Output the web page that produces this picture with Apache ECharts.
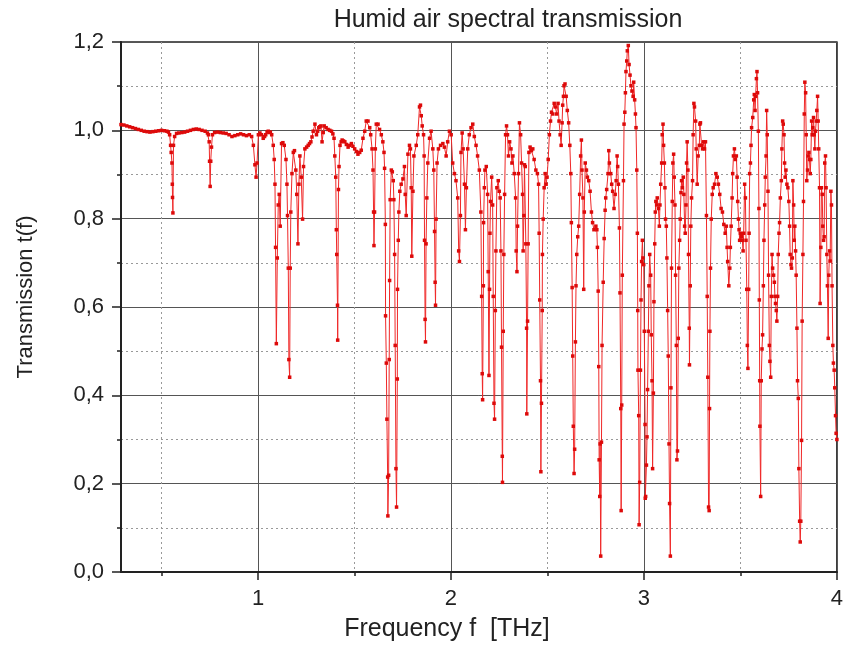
<!DOCTYPE html>
<html>
<head>
<meta charset="utf-8">
<title>Humid air spectral transmission</title>
<script src="https://cdn.jsdelivr.net/npm/echarts@6/dist/echarts.min.js"></script>
<style>
  html, body { margin: 0; padding: 0; background: #fff; }
  #box { width: 846px; height: 654px; }
</style>
</head>
<body>
<div id="box"></div>
<script>
// spectrum: [frequency THz, transmission]
var band1 = [
  [0.290,1.013],[0.305,1.012],[0.320,1.010],[0.335,1.008],[0.350,1.006],[0.365,1.004],
  [0.380,1.002],[0.395,1.000],[0.410,0.998],[0.425,0.997],[0.440,0.996],[0.455,0.997],
  [0.470,0.998],[0.485,0.999],[0.500,1.000],[0.515,0.999],[0.528,0.998],[0.536,0.996],
  [0.542,0.990],[0.547,0.966],[0.550,0.950],[0.554,0.926],[0.556,0.878],[0.557,0.848],
  [0.559,0.813],[0.562,0.966],[0.568,0.986],[0.578,0.993],[0.590,0.994],[0.605,0.995],
  [0.620,0.996],[0.635,0.998],[0.650,1.000],[0.665,1.002],[0.680,1.003],[0.695,1.002],
  [0.710,1.000],[0.726,0.998],[0.738,0.994],[0.743,0.990],[0.747,0.974],[0.749,0.930],
  [0.752,0.873],[0.755,0.930],[0.759,0.962],[0.764,0.990],[0.775,0.995],[0.790,0.996],
  [0.805,0.995],[0.820,0.994],[0.835,0.993],[0.850,0.990],[0.865,0.986],[0.880,0.988],
  [0.895,0.990],[0.910,0.992],[0.925,0.990],[0.940,0.988],[0.955,0.990],[0.967,0.986],
  [0.976,0.966],[0.984,0.922],[0.990,0.894],[0.995,0.926]
];
var band2 = [
  [1.002,0.990],[1.010,0.994],[1.018,0.990],[1.027,0.982],[1.034,0.986],[1.040,0.990],
  [1.047,0.996],[1.053,0.998],[1.058,0.995],[1.064,0.996],[1.071,0.990],[1.079,0.966],
  [1.084,0.934],[1.088,0.878],[1.091,0.735],[1.095,0.517],[1.100,0.711],[1.105,0.831],
  [1.110,0.855],[1.115,0.783],[1.122,0.970],[1.129,0.972],[1.136,0.966],[1.145,0.934],
  [1.150,0.878],[1.153,0.807],[1.157,0.688],[1.160,0.481],[1.164,0.441],[1.167,0.688],
  [1.170,0.815],[1.176,0.902],[1.183,0.950],[1.189,0.954],[1.196,0.910],[1.201,0.855],
  [1.207,0.743],[1.212,0.878],[1.217,0.942],[1.224,0.894],[1.231,0.799],[1.236,0.918],
  [1.243,0.958],[1.252,0.962],[1.260,0.966],[1.267,0.970],[1.274,0.974],[1.280,0.985],
  [1.286,0.998],[1.295,1.014],[1.303,0.990],[1.309,0.998],[1.315,1.006],[1.320,1.008],
  [1.326,1.010],[1.332,0.974],[1.338,0.995],[1.343,1.010],[1.353,1.006],[1.363,1.002],
  [1.372,1.000],[1.381,0.998],[1.388,0.992],[1.394,0.982],[1.398,0.942],[1.403,0.894],
  [1.406,0.775],[1.408,0.719],[1.412,0.604],[1.413,0.525],[1.417,0.866],[1.420,0.918],
  [1.425,0.966],[1.431,0.974],[1.436,0.978],[1.443,0.976],[1.450,0.974],[1.458,0.968],
  [1.467,0.962],[1.475,0.966],[1.484,0.970],[1.492,0.964],[1.501,0.958],[1.510,0.952],
  [1.518,0.946],[1.527,0.950],[1.535,0.955],[1.544,0.982],[1.553,0.998],[1.561,1.021],
  [1.570,1.021],[1.579,1.006],[1.584,0.990],[1.591,0.958],[1.596,0.910],[1.599,0.815],
  [1.601,0.739],[1.604,0.815],[1.608,0.958],[1.613,1.014],[1.622,1.014],[1.630,1.002],
  [1.639,0.990],[1.647,0.974],[1.653,0.950],[1.656,0.914],[1.660,0.787],[1.661,0.580],
  [1.665,0.473],[1.668,0.346],[1.672,0.215],[1.673,0.127],[1.677,0.219],[1.680,0.481],
  [1.682,0.660],[1.685,0.843],[1.691,0.910],[1.696,0.906],[1.701,0.886],[1.704,0.843],
  [1.708,0.719],[1.711,0.513],[1.715,0.234],[1.718,0.147],[1.722,0.437],[1.723,0.640],
  [1.727,0.751],[1.730,0.815],[1.735,0.862],[1.742,0.878],[1.751,0.890],[1.759,0.918],
  [1.763,0.855],[1.768,0.807],[1.777,0.946],[1.785,0.966],[1.790,0.958],[1.794,0.870],
  [1.797,0.715],[1.803,0.862],[1.808,0.942],[1.820,0.966],[1.828,0.990],[1.837,1.053],
  [1.842,1.057],[1.846,1.033],[1.851,1.010],[1.858,0.990],[1.861,0.942],[1.863,0.751],
  [1.866,0.572],[1.868,0.521],[1.871,0.743],[1.875,0.847],[1.880,0.926],[1.889,0.982],
  [1.897,0.998],[1.906,0.958],[1.911,0.910],[1.915,0.771],[1.918,0.656],[1.920,0.604],
  [1.923,0.799],[1.928,0.926],[1.935,0.958],[1.946,0.966],[1.958,0.970],[1.966,0.962],
  [1.975,0.942],[1.983,0.974],[1.992,0.998]
];
var band3 = [
  [2.001,0.990],[2.009,0.926],[2.018,0.902],[2.026,0.886],[2.035,0.847],[2.040,0.727],
  [2.044,0.703],[2.049,0.807],[2.052,0.950],[2.058,0.994],[2.063,0.958],[2.070,0.878],
  [2.075,0.775],[2.080,0.870],[2.087,0.958],[2.095,0.990],[2.104,1.006],[2.113,1.014],
  [2.121,0.986],[2.130,0.966],[2.138,0.942],[2.147,0.910],[2.155,0.815],[2.159,0.624],
  [2.162,0.449],[2.164,0.390],[2.168,0.648],[2.169,0.791],[2.173,0.870],[2.176,0.910],
  [2.183,0.918],[2.190,0.855],[2.193,0.680],[2.197,0.445],[2.200,0.640],[2.202,0.767],
  [2.205,0.839],[2.211,0.894],[2.216,0.831],[2.219,0.624],[2.223,0.382],[2.226,0.346],
  [2.230,0.592],[2.233,0.727],[2.238,0.870],[2.245,0.886],[2.250,0.862],[2.255,0.847],
  [2.259,0.727],[2.262,0.509],[2.266,0.262],[2.267,0.203],[2.271,0.545],[2.274,0.719],
  [2.278,0.855],[2.283,0.990],[2.288,1.010],[2.293,0.990],[2.298,0.942],[2.304,0.974],
  [2.311,0.958],[2.316,0.926],[2.321,0.942],[2.328,0.902],[2.335,0.847],[2.338,0.727],
  [2.342,0.680],[2.345,0.783],[2.350,0.902],[2.355,1.017],[2.361,0.990],[2.366,0.926],
  [2.371,0.855],[2.374,0.727],[2.378,0.807],[2.381,0.922],[2.385,0.918],[2.388,0.743],
  [2.392,0.552],[2.393,0.358],[2.397,0.568],[2.400,0.743],[2.404,0.950],[2.410,0.962],
  [2.417,0.954],[2.424,0.958],[2.431,0.934],[2.440,0.910],[2.448,0.902],[2.454,0.878],
  [2.457,0.767],[2.460,0.616],[2.464,0.433],[2.466,0.227],[2.469,0.382],[2.473,0.592],
  [2.474,0.719],[2.478,0.799],[2.483,0.870],[2.488,0.902],[2.493,0.878],[2.498,0.894],
  [2.504,0.934],[2.510,0.990],[2.516,1.021],[2.521,1.041],[2.528,1.037],[2.535,1.061],
  [2.541,1.053],[2.548,1.037],[2.555,1.061],[2.560,1.021],[2.566,0.990],[2.571,0.966],
  [2.576,1.017],[2.579,1.057],[2.583,1.077],[2.586,1.101],[2.591,1.105],[2.597,1.077],
  [2.603,1.045],[2.610,1.017],[2.616,0.966],[2.621,0.902],[2.624,0.791],[2.628,0.644],
  [2.631,0.489],[2.634,0.330],[2.638,0.223],[2.641,0.278],[2.645,0.521],[2.648,0.648],
  [2.652,0.719],[2.657,0.759],[2.662,0.783],[2.667,0.855],[2.672,0.942],[2.676,0.978],
  [2.679,0.910],[2.684,0.847],[2.688,0.640],[2.691,0.815],[2.696,0.926],[2.702,0.910],
  [2.707,0.894],[2.714,0.886],[2.721,0.862],[2.728,0.815],[2.734,0.791],[2.741,0.775],
  [2.751,0.783],[2.756,0.775],[2.759,0.735],[2.763,0.636],[2.766,0.465],[2.768,0.254],
  [2.771,0.171],[2.773,0.290],[2.776,0.036],[2.780,0.294],[2.783,0.513],[2.789,0.656],
  [2.794,0.755],[2.799,0.819],[2.802,0.847],[2.807,0.866],[2.814,0.902],[2.818,0.954],
  [2.821,0.926],[2.828,0.902],[2.833,0.878],[2.838,0.862],[2.845,0.823],[2.851,0.855],
  [2.856,0.886],[2.861,0.942],[2.864,0.918],[2.868,0.878],[2.873,0.779],[2.876,0.632],
  [2.880,0.370],[2.882,0.139],[2.885,0.378],[2.888,0.672],[2.894,0.886],[2.897,1.014],
  [2.901,1.041],[2.904,1.085],[2.907,1.133],[2.911,1.157],[2.914,1.180],[2.919,1.192],
  [2.923,1.149],[2.928,1.125],[2.933,1.101],[2.938,1.089],[2.944,1.077],[2.947,1.109],
  [2.952,1.069],[2.956,1.037],[2.959,1.006],[2.963,0.910],[2.966,0.767],[2.968,0.592],
  [2.969,0.457],[2.973,0.354],[2.975,0.107],[2.978,0.203],[2.982,0.457],[2.985,0.616],
  [2.988,0.703],[2.992,0.751],[2.995,0.711],[2.999,0.696]
];
var band4 = [
  [3.002,0.545],[3.006,0.334],[3.007,0.167],[3.009,0.171],[3.013,0.242],[3.016,0.306],
  [3.019,0.413],[3.023,0.545],[3.026,0.648],[3.030,0.719],[3.035,0.672],[3.038,0.537],
  [3.042,0.433],[3.045,0.234],[3.049,0.405],[3.052,0.612],[3.056,0.743],[3.059,0.815],
  [3.062,0.839],[3.066,0.831],[3.069,0.847],[3.075,0.823],[3.080,0.783],[3.083,0.831],
  [3.087,0.878],[3.092,0.926],[3.095,0.990],[3.099,1.014],[3.102,0.966],[3.106,0.926],
  [3.109,0.870],[3.112,0.799],[3.116,0.783],[3.119,0.711],[3.123,0.592],[3.126,0.489],
  [3.130,0.290],[3.133,0.155],[3.137,0.036],[3.140,0.417],[3.143,0.688],[3.147,0.839],
  [3.150,0.926],[3.154,0.946],[3.157,0.894],[3.161,0.831],[3.164,0.672],[3.168,0.513],
  [3.171,0.254],[3.174,0.274],[3.178,0.529],[3.181,0.688],[3.185,0.751],[3.188,0.799],
  [3.192,0.859],[3.195,0.886],[3.199,0.870],[3.204,0.894],[3.207,0.855],[3.211,0.783],
  [3.214,0.767],[3.218,0.831],[3.221,0.926],[3.224,0.974],[3.228,0.910],[3.231,0.719],
  [3.235,0.552],[3.236,0.469],[3.240,0.648],[3.243,0.783],[3.247,0.847],[3.252,0.886],
  [3.255,0.990],[3.259,1.061],[3.262,1.053],[3.268,1.021],[3.271,0.958],[3.276,0.878],
  [3.281,0.942],[3.287,0.966],[3.290,1.014],[3.293,1.017],[3.299,0.966],[3.304,0.958],
  [3.309,0.974],[3.314,0.958],[3.319,0.974],[3.324,0.807],[3.328,0.624],[3.331,0.441],
  [3.335,0.147],[3.338,0.139],[3.340,0.370],[3.342,0.545],[3.345,0.688],[3.349,0.799],
  [3.354,0.855],[3.359,0.870],[3.366,0.878],[3.373,0.902],[3.380,0.894],[3.386,0.878],
  [3.393,0.855],[3.400,0.823],[3.407,0.815],[3.414,0.787],[3.421,0.767],[3.427,0.783],
  [3.431,0.735],[3.434,0.703],[3.440,0.648],[3.445,0.688],[3.448,0.735],[3.452,0.783],
  [3.457,0.847],[3.460,0.902],[3.464,0.942],[3.469,0.958],[3.474,0.934],[3.479,0.942],
  [3.483,0.894],[3.486,0.839],[3.490,0.799],[3.493,0.775],[3.496,0.751],[3.500,0.767],
  [3.505,0.759],[3.510,0.751],[3.514,0.727],[3.517,0.767],[3.522,0.878],[3.526,0.847],
  [3.529,0.751],[3.533,0.640],[3.536,0.513],[3.539,0.461],[3.543,0.640],[3.545,0.767],
  [3.548,0.902],[3.552,0.926],[3.555,0.966],[3.558,1.006],[3.564,1.029],[3.569,1.069],
  [3.572,1.081],[3.576,1.045],[3.579,1.077],[3.583,1.117],[3.586,1.133],[3.589,1.085],
  [3.593,0.998],[3.596,0.823],[3.598,0.616],[3.600,0.433],[3.601,0.330],[3.605,0.171],
  [3.608,0.433],[3.612,0.505],[3.615,0.537],[3.619,0.648],[3.622,0.751],[3.626,0.831],
  [3.629,0.894],[3.633,0.942],[3.636,1.045],[3.639,0.990],[3.643,0.862],[3.646,0.672],
  [3.650,0.513],[3.653,0.477],[3.657,0.441],[3.660,0.624],[3.664,0.719],[3.667,0.688],
  [3.672,0.672],[3.676,0.656],[3.679,0.624],[3.682,0.608],[3.686,0.592],[3.689,0.568],
  [3.693,0.624],[3.696,0.719],[3.700,0.767],[3.703,0.791],[3.707,0.847],[3.712,0.886],
  [3.715,0.958],[3.719,1.021],[3.722,1.014],[3.726,0.990],[3.729,0.926],[3.732,0.894],
  [3.736,0.910],[3.741,0.878],[3.746,0.870],[3.751,0.839],[3.755,0.783],[3.758,0.719],
  [3.762,0.696],[3.765,0.688],[3.769,0.711],[3.772,0.886],[3.776,0.831],[3.779,0.751],
  [3.782,0.783],[3.786,0.727],[3.789,0.672],[3.793,0.552],[3.796,0.433],[3.800,0.393],
  [3.803,0.234],[3.807,0.115],[3.810,0.068],[3.813,0.115],[3.817,0.298],[3.820,0.568],
  [3.824,0.719],[3.827,0.839],[3.831,1.037],[3.834,1.109],[3.838,1.085],[3.841,0.990],
  [3.844,0.886],[3.848,0.910],[3.851,0.942],[3.855,0.950],[3.858,0.934],[3.862,0.902],
  [3.865,0.934],[3.869,1.021],[3.872,0.990],[3.875,1.006],[3.879,1.029],[3.882,0.990],
  [3.886,0.958],[3.889,0.998],[3.893,1.021],[3.896,1.045],[3.900,1.077],[3.903,1.021],
  [3.906,0.958],[3.910,0.870],[3.913,0.608],[3.917,0.735],[3.920,0.870],[3.924,0.855],
  [3.927,0.783],[3.931,0.751],[3.934,0.759],[3.937,0.926],[3.941,0.942],[3.944,0.870],
  [3.948,0.719],[3.951,0.648],[3.955,0.529],[3.958,0.672],[3.962,0.727],[3.965,0.704],
  [3.969,0.862],[3.972,0.831],[3.975,0.648],[3.979,0.513],[3.982,0.473],[3.986,0.457],
  [3.989,0.417],[3.993,0.354],[3.996,0.314],[4.000,0.300]
];

var majorTicksX = [1, 2, 3, 4];
var minorTicksX = [0.5, 1.5, 2.5, 3.5];

var myChart = echarts.init(document.getElementById("box"));
var font = "Liberation Sans";

var option = {
  animation: false,
  backgroundColor: "#fff",
  title: {
    text: "Humid air spectral transmission",
    left: 503,
    top: 3,
    textAlign: "center",
    textStyle: { fontFamily: font, fontSize: 25, fontWeight: "normal", color: "#222" },
  },
  grid: {
    left: 121,
    right: 8,
    top: 42,
    bottom: 82,
    show: true,
    borderColor: "#222",
    borderWidth: 1.5,
  },
  xAxis: [
    {
      type: "value",
      position: "bottom",
      min: 0.29,
      max: 4,
      name: "Frequency f  [THz]",
      nameLocation: "middle",
      nameGap: 45,
      nameTextStyle: { fontFamily: font, fontSize: 25, color: "#222", padding: [0, 64, 0, 0] },
      axisLine: { show: true, onZero: false, lineStyle: { color: "#222", width: 2 } },
      axisTick: { show: true, customValues: majorTicksX, length: 8, lineStyle: { color: "#222", width: 1.5 } },
      axisLabel: {
        customValues: majorTicksX,
        margin: 16,
        fontFamily: font,
        fontSize: 22,
        color: "#222",
        formatter: function (v) { return String(Math.round(v)); },
      },
      splitLine: { show: true, lineStyle: { color: "#555", width: 1 } },
    },
    {
      type: "value",
      position: "bottom",
      min: 0.29,
      max: 4,
      axisLine: { show: false },
      axisTick: { show: true, customValues: minorTicksX, length: 4, lineStyle: { color: "#222", width: 1.5 } },
      axisLabel: { show: false },
      splitLine: { show: true, lineStyle: { color: "#999", width: 1, type: [2, 3] } },
    },
  ],
  yAxis: {
    type: "value",
    min: 0,
    max: 1.2,
    interval: 0.2,
    name: "Transmission t(f)",
    nameLocation: "middle",
    nameGap: 84,
    nameTextStyle: { fontFamily: font, fontSize: 22, color: "#222", padding: [0, 0, 0, 20] },
    axisLine: { show: true, lineStyle: { color: "#222", width: 2 } },
    axisTick: { show: true, length: 9, lineStyle: { color: "#222", width: 1.5 } },
    minorTick: { show: true, splitNumber: 2, length: 4, lineStyle: { color: "#222", width: 1.5 } },
    axisLabel: {
      margin: 17,
      fontFamily: font,
      fontSize: 22,
      color: "#222",
      formatter: function (v) { return v.toFixed(1).replace(".", ","); },
    },
    splitLine: { show: true, lineStyle: { color: "#555", width: 1 } },
    minorSplitLine: { show: true, lineStyle: { color: "#999", width: 1, type: [2, 3] } },
  },
  series: [
    {
      type: "line",
      xAxisIndex: 0,
      data: band1.concat(band2, band3, band4),
      showSymbol: true,
      showAllSymbol: true,
      symbol: "rect",
      symbolSize: 3.5,
      itemStyle: { color: "#dd0a0a" },
      lineStyle: { color: "#f02828", width: 1 },
      z: 3,
    },
  ],
};

myChart.setOption(option);
</script>
</body>
</html>
